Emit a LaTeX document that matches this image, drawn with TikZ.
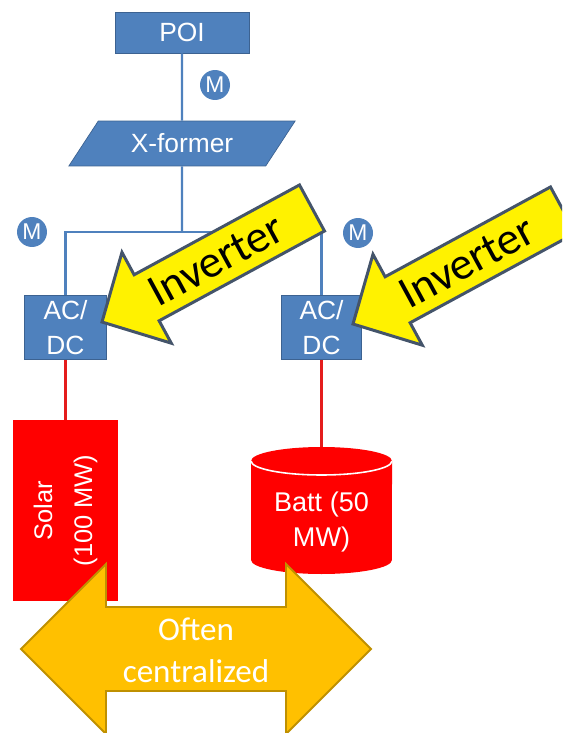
\documentclass[tikz,border=0pt]{standalone}
\usepackage{fontspec}
\setmainfont{Liberation Sans}
\newfontfamily\calibri{Carlito}
\usepackage{tikz}
\usetikzlibrary{shapes.geometric, positioning}

\definecolor{boxblue}{RGB}{79,129,189}
\definecolor{boxedge}{RGB}{60,98,145}
\definecolor{wirered}{RGB}{228,28,28}
\definecolor{calloutedge}{RGB}{68,84,106}
\definecolor{gold}{RGB}{255,192,0}
\definecolor{golddark}{RGB}{191,144,0}

\begin{document}
\begin{tikzpicture}[x=0.02cm, y=-0.02cm]
    % スタイル
    \tikzstyle{block} = [rectangle, draw=boxedge, fill=boxblue, text=white, align=center, inner sep=0pt, font=\fontsize{15}{20}\selectfont]
    \tikzstyle{meter} = [circle, fill=boxblue, text=white, minimum size=0.6cm, inner sep=0pt, font=\fontsize{13}{13}\selectfont]
    \tikzstyle{wire} = [draw=boxblue, line width=1.4pt]
    \tikzstyle{feed} = [draw=wirered, line width=1.4pt]
    \tikzstyle{source} = [fill=red, text=white, align=center, inner sep=0pt]
    \tikzstyle{inverter} = [draw=calloutedge, fill=yellow, line width=1.7pt, line join=miter]
    \tikzstyle{bigarrow} = [draw=golddark, fill=gold, line width=1.1pt, line join=miter]
    \clip (0,0) rectangle (562,733);

    % 系統側
    \node [block, minimum width=2.68cm, minimum height=0.82cm] (poi) at (182,32.5) {POI};
    \node [meter] (mpoi) at (215,85) {M};
    \node [block, trapezium, trapezium left angle=47, trapezium right angle=133, trapezium stretches=true, minimum width=4.56cm, minimum height=0.9cm] (xf) at (182,143.5) {X-former};
    \coordinate (bus) at (182,232);
    \node [block, minimum width=1.64cm, minimum height=1.29cm] (acdcpv) at (65.5,327.5) {AC/\\DC};
    \node [block, minimum width=1.6cm, minimum height=1.29cm] (acdcbatt) at (321.5,327.5) {AC/\\DC};
    \node [meter] (mpv) at (32,232) {M};
    \node [meter] (mbatt) at (358,233) {M};

    \path [wire] (poi) -- (xf);
    \path [wire] (xf) -- (bus);
    \path [wire] (acdcpv) |- (bus) -| (acdcbatt);

    % 電源側
    \node [source, rotate=90, minimum width=3.62cm, minimum height=2.12cm, font=\fontsize{14.5}{22.8}\selectfont] (solar) at (65.5,510.5) {Solar\\(100 MW)};
    \fill [red] (251,461) arc [start angle=180, end angle=360, x radius=1.41cm, y radius=0.28cm]
        -- (392,461) arc [start angle=0, end angle=180, x radius=1.41cm, y radius=0.28cm] -- cycle;
    \fill [red] (251,461) -- (251,560) arc [start angle=180, end angle=360, x radius=1.41cm, y radius=0.28cm]
        -- (392,461) -- cycle;
    \draw [white, line width=0.9pt] (251,461) arc [start angle=180, end angle=360, x radius=1.41cm, y radius=0.28cm];
    \coordinate (batttop) at (321.5,447);
    \node [text=white, align=center, font=\fontsize{15.4}{20}\selectfont] (batt) at (321.5,522) {Batt (50\\MW)};

    \path [feed] (acdcpv.south) -- (solar.east);
    \path [feed] (acdcbatt.south) -- (batttop);

    % 集中型
    \path [bigarrow] (21,649) -- (106,564) -- (106,607) -- (286,607) -- (286,564) -- (371,649)
        -- (286,734) -- (286,691) -- (106,691) -- (106,734) -- cycle;
    \node [text=white, align=center, font=\calibri\fontsize{18.8}{23.9}\selectfont] (often) at (196,650) {Often\\centralized};

    % インバータ
    \begin{scope}[shift={(102,322)}, rotate=28.5]
        \path [inverter] (0,0) -- (1.016cm,1.034cm) -- (1.016cm,0.524cm) -- (4.78cm,0.524cm)
            -- (4.78cm,-0.524cm) -- (1.016cm,-0.524cm) -- (1.016cm,-1.034cm) -- cycle;
        \node [rotate=28.5, font=\calibri\fontsize{26}{26}\selectfont] (invpv) at (2.6cm,0) {Inverter};
    \end{scope}
    \begin{scope}[shift={(353,324)}, rotate=28.5]
        \path [inverter] (0,0) -- (1.016cm,1.034cm) -- (1.016cm,0.524cm) -- (4.78cm,0.524cm)
            -- (4.78cm,-0.524cm) -- (1.016cm,-0.524cm) -- (1.016cm,-1.034cm) -- cycle;
        \node [rotate=28.5, font=\calibri\fontsize{26}{26}\selectfont] (invbatt) at (2.6cm,0) {Inverter};
    \end{scope}
\end{tikzpicture}
\end{document}
